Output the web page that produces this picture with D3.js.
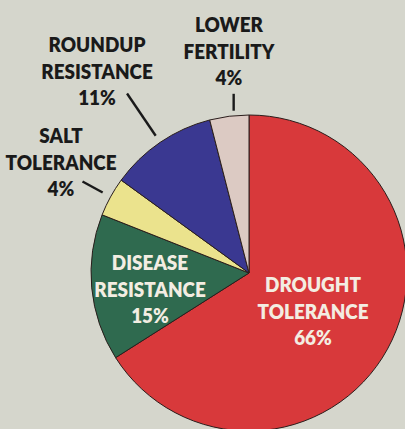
<!DOCTYPE html>
<html>
<head>
<meta charset="utf-8">
<script src="https://cdn.jsdelivr.net/npm/d3@7"></script>
<style>
  html, body { margin: 0; padding: 0; background: #d5d6cc; }
  svg { display: block; }
</style>
</head>
<body>
<div id="chart"></div>
<script>
// data, clockwise from 12 o'clock
const categories = ["Drought Tolerance", "Disease Resistance", "Salt Tolerance", "Roundup Resistance", "Lower Fertility"];
const values = [66, 15, 4, 11, 4];
const labelLines = [
  ["DROUGHT", "TOLERANCE", "66%"],
  ["DISEASE", "RESISTANCE", "15%"],
  ["SALT", "TOLERANCE", "4%"],
  ["ROUNDUP", "RESISTANCE", "11%"],
  ["LOWER", "FERTILITY", "4%"]
];
const sliceColors = ["#d8393b", "#2f6a4f", "#ebe38d", "#3a3891", "#dccac3"];

const width = 405, height = 429;
const cx = 249, cy = 273, radius = 158;

// label placement (relative to the pie centre) and leader lines
const labelLayout = {
  "Drought Tolerance":  { dx: 64,   dy: 19,   fill: "#f3ede2", leader: null },
  "Disease Resistance": { dx: -99,  dy: -3,   fill: "#f3ede2", leader: null },
  "Salt Tolerance":     { dx: -188, dy: -130, fill: "#1a1a1a", leader: { r0: 167, r1: 190, da: 0 } },
  "Roundup Resistance": { dx: -152, dy: -221, fill: "#1a1a1a", leader: { r0: 166, r1: 217, da: 0 } },
  "Lower Fertility":    { dx: -20,  dy: -241, fill: "#1a1a1a", leader: { r0: 163, r1: 180, da: 1.8, vertical: true } }
};
const lineStep = 26.5;

const svg = d3.select("#chart")
  .append("svg")
  .attr("width", width)
  .attr("height", height);

const pie = d3.pie().sort(null).value(d => d.value);
const arcs = pie(categories.map((c, i) => ({ category: c, value: values[i], lines: labelLines[i] })));

const color = d3.scaleOrdinal()
  .domain(categories)
  .range(sliceColors);

const arc = d3.arc().innerRadius(0).outerRadius(radius);

const g = svg.append("g").attr("transform", `translate(${cx},${cy})`);

g.selectAll("path.slice")
  .data(arcs)
  .join("path")
  .attr("class", "slice")
  .attr("fill", d => color(d.data.category))
  .attr("stroke", "#2a1e1c")
  .attr("stroke-width", 1)
  .attr("stroke-linejoin", "round")
  .attr("d", arc);

// leader lines
g.selectAll("line.leader")
  .data(arcs.filter(d => labelLayout[d.data.category].leader))
  .join("line")
  .attr("class", "leader")
  .each(function(d) {
    const L = labelLayout[d.data.category].leader;
    const a = (d.startAngle + d.endAngle) / 2 + L.da * Math.PI / 180;
    const x1 = Math.sin(a) * L.r0;
    const x2 = L.vertical ? x1 : Math.sin(a) * L.r1;
    d3.select(this)
      .attr("x1", x1).attr("y1", -Math.cos(a) * L.r0)
      .attr("x2", x2).attr("y2", -Math.cos(a) * L.r1);
  })
  .attr("stroke", "#1a1a1a")
  .attr("stroke-width", 2.4);

// labels
const labels = g.selectAll("g.label")
  .data(arcs)
  .join("g")
  .attr("class", "label")
  .attr("transform", d => {
    const p = labelLayout[d.data.category];
    return `translate(${p.dx},${p.dy})`;
  });

labels.each(function(d) {
  const p = labelLayout[d.data.category];
  d3.select(this).selectAll("text")
    .data(d.data.lines.map((t, i) => ({ t, i })))
    .join("text")
    .attr("transform", e => `translate(0,${e.i * lineStep}) scale(0.9,1)`)
    .attr("text-anchor", "middle")
    .attr("font-family", "Lato, 'Open Sans', sans-serif")
    .attr("font-weight", 800)
    .attr("font-size", 21)
    .attr("fill", p.fill)
    .text(e => e.t);
});
</script>
</body>
</html>
